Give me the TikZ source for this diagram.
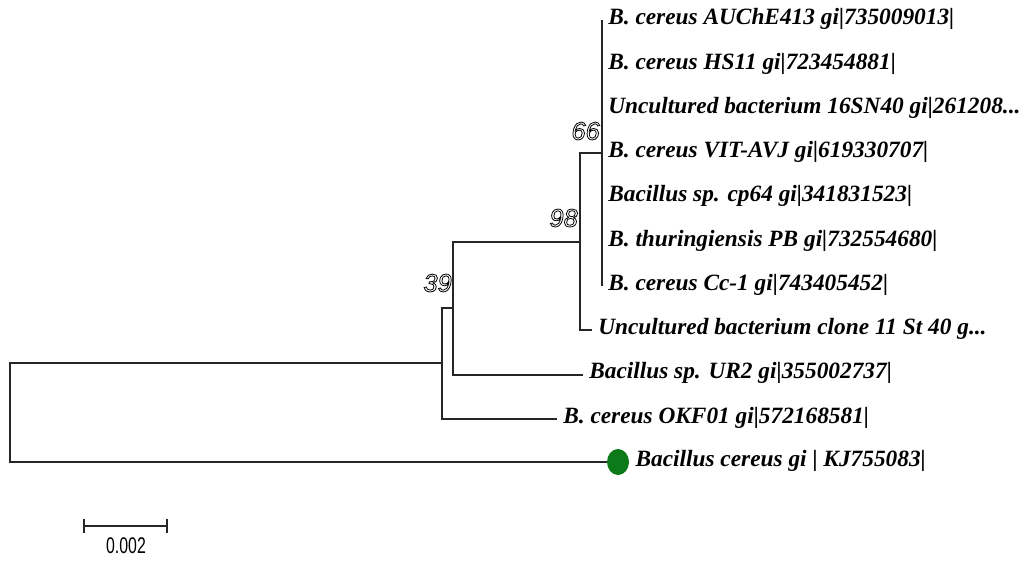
\documentclass[tikz,border=0pt]{standalone}
\usepackage{fontspec}
\setmainfont{Liberation Serif}
\newfontfamily\bootfont{Liberation Sans}
\usetikzlibrary{shapes.geometric}
\definecolor{dotgreen}{RGB}{12,122,24}
\newcommand{\hollowtext}[1]{\special{pdf:literal direct 1 Tr 0.6 w}#1\special{pdf:literal direct 0 Tr}}
\begin{document}
\begin{tikzpicture}[x=0.75pt,y=-0.75pt,
  branch/.style={draw=black!85, line width=1.5pt},
  scalebar/.style={draw=black!85, line width=1.1pt},
  leaf/.style={anchor=west, inner xsep=4.5pt, inner ysep=0pt,
    font=\fontsize{17.5}{20}\selectfont\bfseries\itshape,
    text height=0.662em, text depth=0pt},
  boot/.style={anchor=east, inner sep=0pt,
    font=\fontsize{19}{21}\selectfont\bootfont\itshape}]
\useasboundingbox (0,0) rectangle (1034,560);
% leaves
\node[leaf] (l1) at (602,20.5)   {B. cereus AUChE413 gi|735009013|};
\node[leaf] (l2) at (602,64.75)  {B. cereus HS11 gi|723454881|};
\node[leaf] (l3) at (602,109)    {Uncultured bacterium 16SN40 gi|261208...};
\node[leaf] (l4) at (602,153.25) {B. cereus VIT-AVJ gi|619330707|};
\node[leaf] (l5) at (602,197.5)  {Bacillus sp. cp64 gi|341831523|};
\node[leaf] (l6) at (602,241.75) {B. thuringiensis PB gi|732554680|};
\node[leaf] (l7) at (602,286)    {B. cereus Cc-1 gi|743405452|};
\node[leaf] (l8) at (592,330.25) {Uncultured bacterium clone 11 St 40 g...};
\node[leaf] (l9) at (583,374.5)  {Bacillus sp. UR2 gi|355002737|};
\node[leaf] (l10) at (557,418.75) {B. cereus OKF01 gi|572168581|};
\node[ellipse, fill=dotgreen, minimum width=16.5pt, minimum height=19.5pt, inner sep=0pt] (dot) at (618,462) {};
\node[leaf] (l11) at (dot.east) {Bacillus cereus gi | KJ755083|};
% internal nodes
\coordinate (D) at (602,153.25);
\coordinate (C) at (580,241.75);
\coordinate (B) at (453,308.1);
\coordinate (A) at (442,363.4);
\coordinate (R) at (10,413.2);
% branches
\draw[branch] (D) |- (l1);
\draw[branch] (D) |- (l7);
\draw[branch] (D) -| (C) |- (l8);
\draw[branch] (C) -| (B) |- (l9);
\draw[branch] (B) -| (A) |- (l10);
\draw[branch] (A) -| (R) |- (dot);
% bootstrap values
\node[boot] (b66) at (600,131) {\hollowtext{66}};
\node[boot] (b98) at (578,218) {\hollowtext{98}};
\node[boot] (b39) at (452,283) {\hollowtext{39}};
% scale bar
\coordinate (s1) at (84,526);
\coordinate (s2) at (167,526);
\draw[scalebar] (s1) -- (s2);
\draw[scalebar] ([yshift=5.5pt]s1) -- ([yshift=-5.5pt]s1);
\draw[scalebar] ([yshift=5.5pt]s2) -- ([yshift=-5.5pt]s2);
\node[inner sep=0pt, font=\fontsize{17}{19}\selectfont\bootfont] (sl) at (126,546) {\scalebox{0.7}[1]{0.002}};
\end{tikzpicture}
\end{document}
